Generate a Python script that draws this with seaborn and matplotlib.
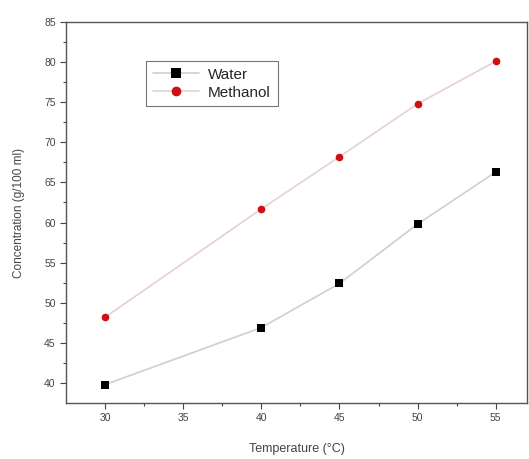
import matplotlib
matplotlib.use("Agg")
import matplotlib.pyplot as plt
import numpy as np
import pandas as pd
import seaborn as sns

temperature = [30, 40, 45, 50, 55]
water = [39.8, 46.9, 52.4, 59.8, 66.3]
methanol = [48.2, 61.7, 68.2, 74.8, 80.1]

df = pd.DataFrame({
    'Temperature': temperature * 2,
    'Concentration': water + methanol,
    'Solvent': ['Water'] * len(water) + ['Methanol'] * len(methanol),
})

sns.set_style("ticks")
plt.rcParams['font.family'] = ['Liberation Sans', 'DejaVu Sans']

fig = plt.figure(figsize=(5.29, 4.59), dpi=100)
ax = fig.add_axes([0.125, 0.122, 0.871, 0.830])

marker_colors = {'Water': 'black', 'Methanol': '#d01010'}
line_colors = {'Water': '#cfcfcf', 'Methanol': '#e8d0d0'}

sns.lineplot(data=df, x='Temperature', y='Concentration', hue='Solvent',
             style='Solvent', markers={'Water': 's', 'Methanol': 'o'},
             dashes=False, palette=line_colors, linewidth=1.2,
             markersize=5.5, markeredgewidth=0, ax=ax)

for line, name in zip(ax.lines, ['Water', 'Methanol']):
    line.set_markerfacecolor(marker_colors[name])
    line.set_markeredgecolor(marker_colors[name])

leg = ax.legend(loc='upper left', bbox_to_anchor=(0.174, 0.898), fontsize=11,
                frameon=True, fancybox=False, edgecolor='#555555',
                handlelength=3.0, borderpad=0.45, labelspacing=0.25,
                handletextpad=0.6, borderaxespad=0)
leg.get_frame().set_linewidth(0.8)
handles = leg.legend_handles
for h, name in zip(handles, ['Water', 'Methanol']):
    h.set_markerfacecolor(marker_colors[name])
    h.set_markeredgecolor(marker_colors[name])
    h.set_markersize(7)

ax.set_xlim(27.5, 57)
ax.set_ylim(37.5, 85)
ax.set_xticks([30, 35, 40, 45, 50, 55])
ax.set_yticks(np.arange(40, 86, 5))
ax.set_xticks(np.arange(32.5, 57, 5), minor=True)
ax.set_yticks(np.arange(42.5, 85, 5), minor=True)
ax.tick_params(axis='both', which='major', labelsize=7.5, length=4,
               width=0.8, colors='#444444', labelcolor='#444444')
ax.tick_params(axis='both', which='minor', length=2.5, width=0.8,
               colors='#444444')
for s in ax.spines.values():
    s.set_linewidth(1.0)
    s.set_color('#555555')

ax.set_xlabel('Temperature (°C)', fontsize=9, color='#444444', labelpad=14)
ax.set_ylabel('Concentration (g/100 ml)', fontsize=8.5, color='#444444', labelpad=14)

fig.savefig('out.png', dpi=100)
